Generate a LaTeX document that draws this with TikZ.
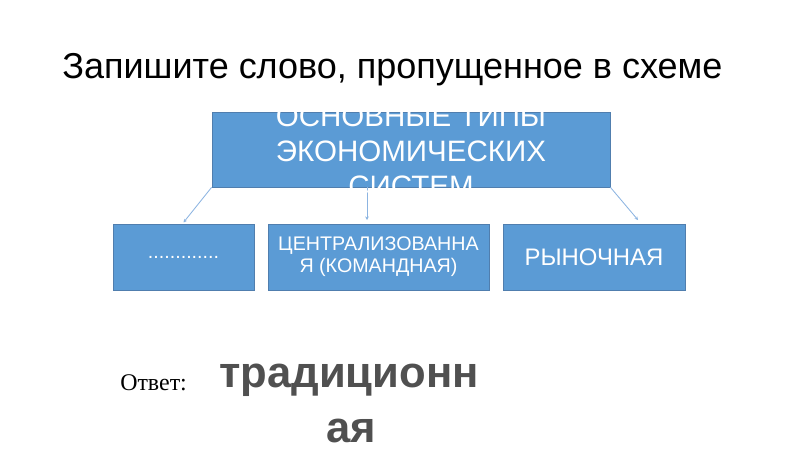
\documentclass[tikz,border=0pt]{standalone}
\usepackage{fontspec}
\setmainfont{Liberation Sans}
\newfontfamily\answerfont{Liberation Serif}
\usepackage{xcolor}
\usetikzlibrary{positioning, arrows.meta, calc}

\definecolor{boxfill}{RGB}{91,155,213}
\definecolor{boxline}{RGB}{80,126,174}
\definecolor{linkblue}{RGB}{140,180,225}
\definecolor{wordgray}{RGB}{80,80,80}

\begin{document}
\begin{tikzpicture}[
    x=0.025cm, y=-0.025cm,
    typebox/.style={rectangle, draw=boxline, fill=boxfill, line width=0.6pt, inner sep=0pt, minimum height=46.9pt},
    boxtext/.style={text=white, align=center, inner sep=0pt},
    link/.style={-{Stealth[length=2.5pt, width=2.5pt]}, draw=linkblue, line width=0.6pt},
]
\useasboundingbox (0,0) rectangle (800,450);

% === TITLE ===
\node[anchor=base west, inner sep=0pt, font=\fontsize{25.6}{30}\selectfont] (title) at (62,78) {Запишите слово, пропущенное в схеме};

% === BOXES ===
\node[typebox, minimum width=283.1pt, minimum height=53.3pt] (types) at (411,149.5) {};
\node[typebox, minimum width=100.3pt] (trad) at (183.5,257) {};
\node[typebox, minimum width=157.2pt] (central) at (378.5,257) {};
\node[typebox, minimum width=129.5pt] (market) at (594,257) {};

% === ARROWS ===
\coordinate (centralend) at (367,220);
\coordinate (marketend) at (638,220);
\draw[link] (types.south west) -- ([yshift=0.8pt]trad.north);
\draw[link] (types.south -| centralend) -- (centralend);
\draw[link] (types.south east) -- (marketend);

% === BOX TEXTS ===
\node[boxtext, font=\fontsize{21}{25}\selectfont] (typestext) at (411,151) {ОСНОВНЫЕ ТИПЫ\\ЭКОНОМИЧЕСКИХ\\СИСТЕМ};
\node[boxtext, font=\fontsize{14}{15}\selectfont] (tradtext) at (trad.center) {.............};
\node[boxtext, font=\fontsize{14}{15.6}\selectfont] (centraltext) at (central.center) {ЦЕНТРАЛИЗОВАННА\\Я (КОМАНДНАЯ)};
\node[boxtext, font=\fontsize{17}{20}\selectfont] (markettext) at (market.center) {РЫНОЧНАЯ};

% === ANSWER ===
\node[anchor=base west, inner sep=0pt, font=\answerfont\fontsize{17}{20}\selectfont] (answer) at (120,390) {Ответ:};
\node[anchor=base, inner sep=0pt, text=wordgray, font=\bfseries\fontsize{31}{39}\selectfont] (word) at (349,387) {традиционн};
\node[anchor=base, inner sep=0pt, text=wordgray, font=\bfseries\fontsize{31}{39}\selectfont] (wordend) at (351.5,442) {ая};

\end{tikzpicture}
\end{document}
